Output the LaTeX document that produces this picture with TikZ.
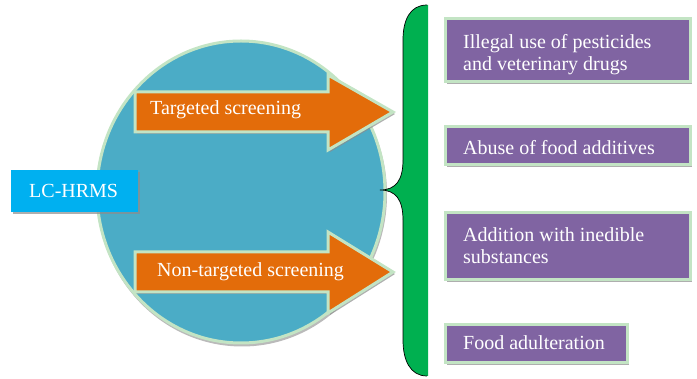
\documentclass[tikz,border=0pt]{standalone}
\usepackage{fontspec}
\setmainfont{Liberation Serif}
\usetikzlibrary{shadows,shapes.geometric}
\definecolor{circfill}{HTML}{4BACC6}
\definecolor{rimgreen}{HTML}{C3E4C4}
\definecolor{arroworange}{HTML}{E36C0A}
\definecolor{boxpurple}{HTML}{8064A2}
\definecolor{bracegreen}{HTML}{00B050}
\definecolor{lccyan}{HTML}{00B0F0}
\definecolor{shadowgray}{HTML}{8C8C8C}
\tikzset{
  rim/.style={draw=rimgreen, line width=3pt},
  shade off/.style={drop shadow={shadow xshift=2pt, shadow yshift=-2pt, fill=shadowgray, opacity=0.7}},
  lbl/.style={text=white, font=\fontsize{20}{22.5}\selectfont, inner sep=0pt},
  itembox/.style={rim, fill=boxpurple, shade off},
}
\begin{document}
\begin{tikzpicture}[x=1pt,y=-1pt]
\useasboundingbox (0,0) rectangle (697,379);
% circle
\fill[shadowgray, opacity=0.6] (242,194.5) ellipse [x radius=145, y radius=152];
\node[rim, fill=circfill, ellipse, minimum width=288pt, minimum height=302pt, inner sep=0pt] (circ) at (241,192) {};
% targeted arrow
\path[rim, fill=arroworange, shade off] (135,92) -- (328,92) -- (328,75) -- (393,112) -- (328,150) -- (328,132) -- (135,132) -- cycle;
\node[lbl, anchor=base west] (targ) at (150,115) {Targeted screening};
% non-targeted arrow
\path[rim, fill=arroworange, shade off] (135,252) -- (328,252) -- (328,232) -- (393,272) -- (328,313) -- (328,292) -- (135,292) -- cycle;
\node[lbl, anchor=base west] (nontarg) at (157,277) {Non-targeted screening};
% LC-HRMS
\fill[shadowgray, opacity=0.7] (13,172) rectangle (140,214);
\node[fill=lccyan, minimum width=127pt, minimum height=42pt, anchor=north west, inner sep=0pt] (lc) at (11,170) {};
\node[lbl, anchor=base west] (lctext) at (29,198) {LC-HRMS};
% brace
\fill[bracegreen] (428,5) -- (427,5) .. controls (410,5) and (403,20) .. (403,40) -- (403,160) .. controls (403,180) and (396,190) .. (380,190) .. controls (396,190) and (403,200) .. (403,220) -- (403,340) .. controls (403,360) and (410,376) .. (427,376) -- (428,376) -- cycle;
\draw[black, line width=0.7pt] (427,5) .. controls (410,5) and (403,20) .. (403,40) -- (403,160) .. controls (403,180) and (396,190) .. (380,190) .. controls (396,190) and (403,200) .. (403,220) -- (403,340) .. controls (403,360) and (410,376) .. (427,376);
\coordinate (bracetip) at (380,190);
% item boxes
\path[itembox] (445,19) rectangle (690,82);
\node[lbl, anchor=base west, align=left] (b1) at (463,71) {Illegal use of pesticides\\and veterinary drugs};
\path[itembox] (445,127) rectangle (690,165);
\node[lbl, anchor=base west] (b2) at (463,155) {Abuse of food additives};
\path[itembox] (445,213) rectangle (690,280);
\node[lbl, anchor=base west, align=left] (b3) at (463,264) {Addition with inedible\\substances};
\path[itembox] (445,325) rectangle (627,363);
\node[lbl, anchor=base west] (b4) at (463,350) {Food adulteration};
\end{tikzpicture}
\end{document}
